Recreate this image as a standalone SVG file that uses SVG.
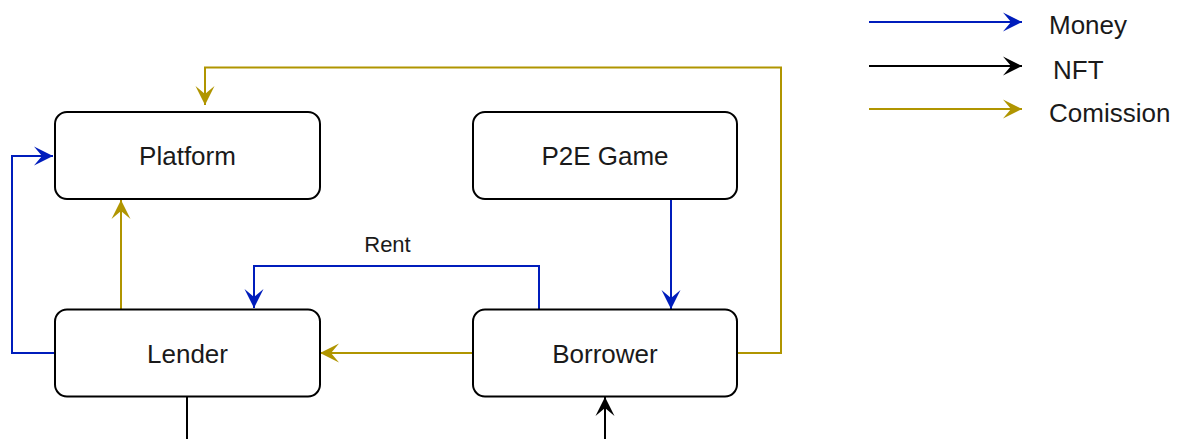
<svg xmlns="http://www.w3.org/2000/svg" width="1181" height="439" viewBox="0 0 1181 439">
  <style>
    .node rect { fill: #ffffff; stroke: #000000; stroke-width: 2; }
    .label { font-family: "Liberation Sans", Arial, sans-serif; font-size: 26px; fill: #1a1a1a; text-anchor: middle; }
    .legend-text { font-family: "Liberation Sans", Arial, sans-serif; font-size: 26px; fill: #1a1a1a; }
    .edge-label { font-family: "Liberation Sans", Arial, sans-serif; font-size: 22px; fill: #1a1a1a; text-anchor: middle; }
    .money { fill: none; stroke: #001DBC; stroke-width: 2; marker-end: url(#arrow-money); }
    .nft { fill: none; stroke: #000000; stroke-width: 2; marker-end: url(#arrow-nft); }
    .fee { fill: none; stroke: #B09500; stroke-width: 2; marker-end: url(#arrow-fee); }
    .plain-nft { fill: none; stroke: #000000; stroke-width: 2; }
  </style>
  <defs>
    <marker id="arrow-money" markerUnits="userSpaceOnUse" markerWidth="22" markerHeight="22" viewBox="-20 -11 22 22" refX="0" refY="0" orient="auto">
      <path d="M0,0 L-19,-9.5 L-11,0 L-19,9.5 Z" fill="#001DBC"/>
    </marker>
    <marker id="arrow-nft" markerUnits="userSpaceOnUse" markerWidth="22" markerHeight="22" viewBox="-20 -11 22 22" refX="0" refY="0" orient="auto">
      <path d="M0,0 L-19,-9.5 L-11,0 L-19,9.5 Z" fill="#000000"/>
    </marker>
    <marker id="arrow-fee" markerUnits="userSpaceOnUse" markerWidth="22" markerHeight="22" viewBox="-20 -11 22 22" refX="0" refY="0" orient="auto">
      <path d="M0,0 L-19,-9.5 L-11,0 L-19,9.5 Z" fill="#B09500"/>
    </marker>
  </defs>

  <!-- flows between parties -->
  <g id="connectors">
    <path class="fee" d="M737,353 L781,353 L781,67.5 L205,67.5 L205,105"/>
    <path class="money" d="M55,353 L12,353 L12,156 L53,156"/>
    <path class="fee" d="M121,309 L121,200"/>
    <path class="money" d="M539,309 L539,266 L254,266 L254,308"/>
    <text class="edge-label" x="387.5" y="252">Rent</text>
    <path class="money" d="M671,199 L671,309"/>
    <path class="fee" d="M473,353 L320,353"/>
    <path class="plain-nft" d="M187,397 L187,439"/>
    <path class="nft" d="M605,439 L605,397"/>
  </g>

  <g id="platform" class="node">
    <rect x="55" y="112" width="265" height="87" rx="12"/>
    <text class="label" x="187.5" y="165">Platform</text>
  </g>
  <g id="p2e-game" class="node">
    <rect x="473" y="112" width="264" height="87" rx="12"/>
    <text class="label" x="605" y="165">P2E Game</text>
  </g>
  <g id="lender" class="node">
    <rect x="55" y="309.5" width="265" height="87" rx="12"/>
    <text class="label" x="187.5" y="362.5">Lender</text>
  </g>
  <g id="borrower" class="node">
    <rect x="473" y="309.5" width="264" height="87" rx="12"/>
    <text class="label" x="605" y="362.5">Borrower</text>
  </g>

  <!-- key -->
  <g id="legend">
    <path class="money" d="M869,22 L1022,22"/>
    <text class="legend-text" x="1049" y="34">Money</text>
    <path class="nft" d="M869,66 L1022,66"/>
    <text class="legend-text" x="1053" y="78.5">NFT</text>
    <path class="fee" d="M869,109 L1022,109"/>
    <text class="legend-text" x="1049" y="121.5">Comission</text>
  </g>
</svg>
